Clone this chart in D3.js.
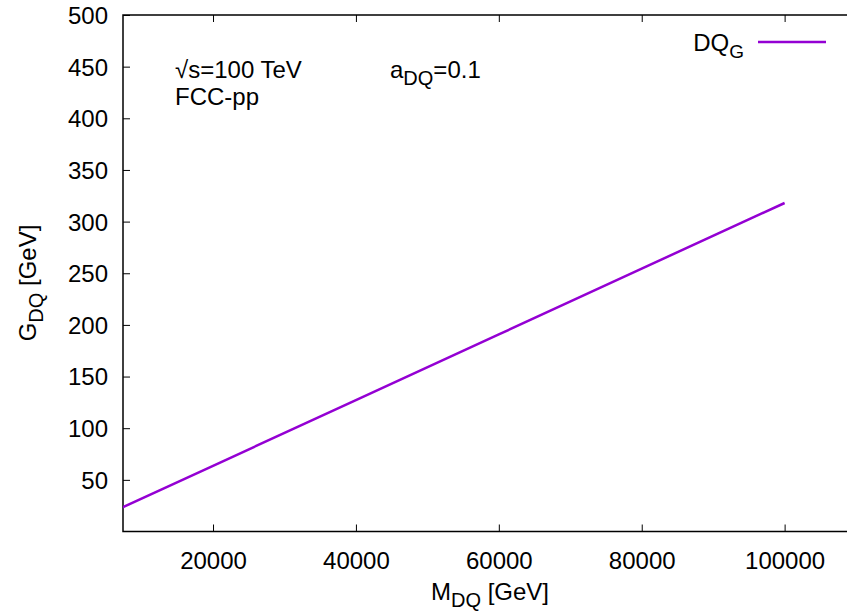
<!DOCTYPE html>
<html><head><meta charset="utf-8">
<script src="https://cdn.jsdelivr.net/npm/d3@7/dist/d3.min.js"></script>
<style>body{margin:0;background:#fff}text{font-family:"Liberation Sans",Arial,sans-serif;fill:#000}</style>
</head><body>
<svg id="c" width="847" height="615"></svg>
<script>
const massGeV = [5000, 20000, 40000, 60000, 80000, 100000];
const widthGeV = [15.9, 63.6, 127.2, 190.8, 254.5, 318];
const xTicks = [20000, 40000, 60000, 80000, 100000];
const yTicks = [50, 100, 150, 200, 250, 300, 350, 400, 450, 500];

const svg = d3.select("#c");
const L = 123, R = 847, T = 15, B = 531.5;
const x = d3.scaleLinear().domain([7400, 108730]).range([L, R]);
const y = d3.scaleLinear().domain([0, 500]).range([B, T]);

svg.append("defs").append("clipPath").attr("id","clip").append("rect")
  .attr("x",L).attr("y",T).attr("width",R-L).attr("height",B-T);

const fs = 24;
// y axis
const ya = svg.append("g").attr("transform",`translate(${L},0)`)
  .call(d3.axisLeft(y).tickValues(yTicks).tickSize(-7).tickPadding(15).tickFormat(d3.format("d")));
ya.select(".domain").remove();
ya.selectAll("text").style("font-size",fs+"px").attr("dy","0.35em");
ya.selectAll("line").attr("stroke","#000").attr("stroke-width",1);
// x axis
const xa = svg.append("g").attr("transform",`translate(0,${B})`)
  .call(d3.axisBottom(x).tickValues(xTicks).tickSize(-7).tickPadding(20).tickFormat(d3.format("d")));
xa.select(".domain").remove();
xa.selectAll("text").style("font-size",fs+"px");
xa.selectAll("line").attr("stroke","#000").attr("stroke-width",1);
// top mirror ticks
const xt = svg.append("g").attr("transform",`translate(0,${T})`)
  .call(d3.axisTop(x).tickValues(xTicks).tickSize(-7).tickFormat(""));
xt.select(".domain").remove();
xt.selectAll("line").attr("stroke","#000").attr("stroke-width",1);

// frame (left, bottom, top)
svg.append("path").attr("d",`M${R},${T}H${L}V${B}H${R}`)
  .attr("fill","none").attr("stroke","#000").attr("stroke-width",1.5);

// curve
svg.append("path").datum(massGeV.map((m,i)=>[m,widthGeV[i]]))
  .attr("clip-path","url(#clip)")
  .attr("fill","none").attr("stroke","#9400d3").attr("stroke-width",2.5)
  .attr("d", d3.line().x(d=>x(d[0])).y(d=>y(d[1])));

// legend
const lg = svg.append("text").attr("x",744).attr("y",51).attr("text-anchor","end").style("font-size",fs+"px");
lg.append("tspan").text("DQ");
lg.append("tspan").attr("dy",7).style("font-size","19px").text("G");
svg.append("line").attr("x1",758).attr("x2",826).attr("y1",42).attr("y2",42)
  .attr("stroke","#9400d3").attr("stroke-width",2.5);

// annotations
svg.append("text").attr("x",175).attr("y",78).style("font-size","24px").text("√s=100 TeV");
svg.append("text").attr("x",175).attr("y",105).style("font-size","24px").text("FCC-pp");
const a = svg.append("text").attr("x",390).attr("y",78).style("font-size","24px");
a.append("tspan").text("a");
a.append("tspan").attr("dy",7).style("font-size","20px").text("DQ");
a.append("tspan").attr("dy",-7).text("=0.1");

// axis titles
const xl = svg.append("text").attr("x",490).attr("y",600).attr("text-anchor","middle").style("font-size","24px");
xl.append("tspan").text("M");
xl.append("tspan").attr("dy",7).style("font-size","20px").text("DQ");
xl.append("tspan").attr("dy",-7).text(" [GeV]");
const yl = svg.append("text").attr("transform","translate(36,283) rotate(-90)").attr("text-anchor","middle").style("font-size","24px");
yl.append("tspan").text("G");
yl.append("tspan").attr("dy",7).style("font-size","20px").text("DQ");
yl.append("tspan").attr("dy",-7).text(" [GeV]");
</script>
</body></html>
